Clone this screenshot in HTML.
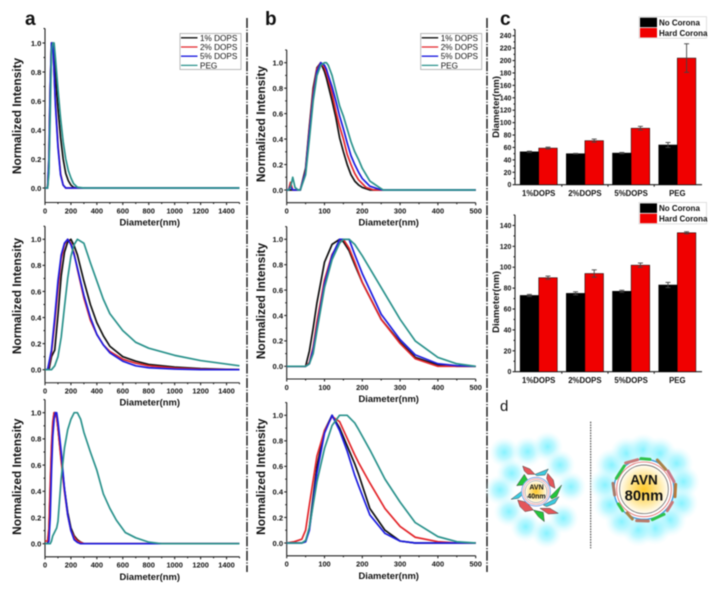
<!DOCTYPE html>
<html lang="en">
<head>
<meta charset="utf-8">
<title>Nanoparticle size distributions and corona diameters</title>
<style>
html,body{margin:0;padding:0;background:#fff;width:714px;height:589px;overflow:hidden}
svg{display:block;filter:blur(.4px)}
text{font-family:"Liberation Sans",sans-serif;fill:#111}
</style>
</head>
<body>
<svg id="figure" xmlns="http://www.w3.org/2000/svg" width="714" height="589" viewBox="0 0 714 589">
  <defs>
    <radialGradient id="glow"><stop offset="0" stop-color="#86f2ff"/><stop offset=".45" stop-color="#a8f5ff" stop-opacity=".75"/><stop offset="1" stop-color="#dcfbff" stop-opacity="0"/></radialGradient>
    <radialGradient id="core"><stop offset="0" stop-color="#ffc928"/><stop offset=".6" stop-color="#ffe79a"/><stop offset="1" stop-color="#fffdf5"/></radialGradient>
  </defs>
  <rect x="0" y="0" width="714" height="589" fill="#fff"/>
  <line x1="247" y1="18" x2="247" y2="572" stroke="#222" stroke-width="1.5" stroke-dasharray="10 1.6 1.2 1.6"/>
  <line x1="487" y1="18" x2="487" y2="572" stroke="#222" stroke-width="1.5" stroke-dasharray="10 1.6 1.2 1.6"/>
  <text x="25" y="25" font-size="19" font-weight="bold">a</text>
  <text x="265" y="25" font-size="19" font-weight="bold">b</text>
  <text x="500" y="25" font-size="19" font-weight="bold">c</text>
  <text x="500" y="411" font-size="15">d</text>
  <g id="charts"></g>

  <g transform="translate(485,395) scale(.3333)">
    <line x1="317" y1="80" x2="317" y2="460" stroke="#555" stroke-width="3.5" stroke-dasharray="5 3"/>
    <g>
      <g fill="url(#glow)">
        <circle cx="58" cy="172" r="46"/><circle cx="128" cy="170" r="46"/><circle cx="188" cy="155" r="46"/><circle cx="225" cy="210" r="46"/><circle cx="80" cy="235" r="46"/><circle cx="258" cy="275" r="46"/><circle cx="45" cy="285" r="46"/><circle cx="72" cy="350" r="46"/><circle cx="122" cy="395" r="46"/><circle cx="185" cy="415" r="46"/><circle cx="235" cy="370" r="46"/>
      </g>
      <g stroke="#444" stroke-width="1.5">
        <polygon fill="#e4565a" points="113,213 135,222 150,238 128,238 118,228"/>
        <polygon fill="#3ccbe0" points="150,238 190,222 180,240 155,242"/>
        <polygon fill="#e4565a" points="188,235 205,255 210,280 195,272 185,250"/>
        <polygon fill="#22c53a" points="95,272 118,238 128,255 115,270"/>
        <polygon fill="#22c53a" points="195,305 230,270 215,305 200,312"/>
        <polygon fill="#3ccbe0" points="78,313 115,285 118,295 100,310"/>
        <polygon fill="#3ccbe0" points="175,330 222,305 210,325 185,335"/>
        <polygon fill="#e4565a" points="98,315 125,322 145,345 120,350 105,335"/>
        <polygon fill="#22c53a" points="145,345 175,352 178,380 160,365"/>
        <polygon fill="#e4565a" points="165,340 195,340 220,355 190,357"/>
      </g>
      <circle cx="153" cy="290" r="43" fill="#fff" stroke="#7fa6e8" stroke-width="3"/>
      <circle cx="153" cy="290" r="38" fill="#fff" stroke="#e88a8a" stroke-width="2"/>
      <circle cx="153" cy="290" r="33" fill="url(#core)" stroke="#777" stroke-width="1.5"/>
    </g>
    <g>
      <g fill="url(#glow)">
        <circle cx="380" cy="210" r="50"/><circle cx="425" cy="175" r="50"/><circle cx="475" cy="165" r="50"/><circle cx="525" cy="175" r="50"/><circle cx="575" cy="205" r="50"/><circle cx="595" cy="260" r="50"/><circle cx="590" cy="325" r="50"/><circle cx="555" cy="375" r="50"/><circle cx="510" cy="400" r="50"/><circle cx="460" cy="405" r="50"/><circle cx="410" cy="380" r="50"/><circle cx="375" cy="330" r="50"/><circle cx="360" cy="270" r="50"/>
      </g>
      <circle cx="477" cy="283" r="90" fill="#fff" stroke="#3a9ae0" stroke-width="4"/>
      <circle cx="477" cy="283" r="82" fill="#fff" stroke="#e06a6a" stroke-width="2.5"/>
      <circle cx="477" cy="283" r="73" fill="url(#core)" stroke="#555" stroke-width="2"/>
      <g fill="none" stroke-width="9" stroke-linecap="round">
        <path stroke="#2ec24a" d="M468 191 L495 193"/>
        <path stroke="#c87a7a" d="M422 204 L458 194"/>
        <path stroke="#a8824a" d="M517 195 L542 223"/>
        <path stroke="#c87a8a" d="M549 228 L567 260"/>
        <path stroke="#b87a3a" d="M572 268 L570 305"/>
        <path stroke="#c87a7a" d="M562 322 L547 347"/>
        <path stroke="#2ec24a" d="M537 358 L502 374"/>
        <path stroke="#b87a6a" d="M490 378 L455 377"/>
        <path stroke="#a8824a" d="M442 372 L426 354"/>
        <path stroke="#2ec24a" d="M413 347 L400 327"/>
        <path stroke="#a87a6a" d="M389 300 L384 265"/>
        <path stroke="#2ec24a" d="M394 250 L418 213"/>
      </g>
    </g>
  </g>
  <text text-anchor="middle" x="536.5" y="489.5" font-size="7" font-weight="bold">AVN</text>
  <text text-anchor="middle" x="536.5" y="498.5" font-size="7" font-weight="bold">40nm</text>
  <text text-anchor="middle" x="644" y="484.5" font-size="13.5" font-weight="bold">AVN</text>
  <text text-anchor="middle" x="644" y="500.5" font-size="14.8" font-weight="bold">80nm</text>
</svg>
<script>
// ---------- shared labels and ticks ----------
const seriesNames = ['1% DOPS', '2% DOPS', '5% DOPS', 'PEG'];
const seriesColors = ['#111111', '#e3262b', '#1c1ce0', '#2a928c'];
const intensityTicks = [0, 0.2, 0.4, 0.6, 0.8, 1.0];
const wideDiameterTicks = [0, 200, 400, 600, 800, 1000, 1200, 1400];
const narrowDiameterTicks = [0, 100, 200, 300, 400, 500];

// ---------- panel a, top ----------
const a1Diameter = [0, 20, 30, 40, 50, 60, 70, 80, 100, 120, 140, 160, 180, 200, 220, 250, 300, 1500];
const a1Dops1 = [0, 0, .15, .65, 1, .98, .9, .78, .55, .35, .2, .1, .05, .02, .005, 0, 0, 0];
const a1Dops2 = [0, 0, .2, .7, 1, 1, .8, .6, .3, .1, .02, 0, 0, 0, 0, 0, 0, 0];
const a1Dops5 = [0, 0, .2, .7, 1, 1, .8, .58, .28, .09, .02, 0, 0, 0, 0, 0, 0, 0];
const a1Peg = [0, 0, .1, .5, .95, 1, 1, .9, .68, .48, .32, .2, .12, .07, .03, .005, 0, 0];

// ---------- panel a, middle ----------
const a2Diameter = [0, 20, 30, 50, 75, 100, 125, 150, 175, 200, 225, 250, 300, 350, 400, 450, 500, 600, 700, 800, 1000, 1200, 1500];
const a2Dops1 = [0, 0, 0, .1, .15, .42, .72, .9, .98, 1, .95, .88, .68, .5, .36, .26, .18, .1, .065, .04, .02, .008, 0];
const a2Dops2 = [0, 0, .03, .13, .36, .62, .85, .96, 1, .97, .89, .77, .55, .38, .27, .19, .14, .08, .05, .03, .012, .004, 0];
const a2Dops5 = [0, 0, .05, .15, .4, .68, .88, .97, 1, .96, .88, .78, .57, .4, .27, .19, .13, .065, .03, .015, .005, 0, 0];
const a2Peg = [0, 0, 0, 0, .03, .1, .25, .48, .7, .87, .96, 1, .97, .82, .68, .54, .43, .3, .21, .165, .11, .07, .03];

// ---------- panel a, bottom ----------
const a3Diameter = [0, 20, 30, 40, 50, 60, 70, 80, 90, 100, 125, 150, 175, 200, 225, 250, 275, 300, 350, 400, 450, 500, 550, 620, 700, 800, 900, 1500];
const a3Dops1 = [0, 0, .1, .4, .7, .9, 1, 1, .97, .88, .65, .42, .24, .12, .06, .03, .012, 0, 0, 0, 0, 0, 0, 0, 0, 0, 0, 0];
const a3Dops2 = [.02, .02, .12, .45, .75, .93, 1, 1, .96, .88, .63, .4, .22, .1, .05, .02, .01, 0, 0, 0, 0, 0, 0, 0, 0, 0, 0, 0];
const a3Dops5 = [0, 0, .02, .2, .55, .82, .95, 1, 1, .93, .7, .42, .22, .1, .03, .01, 0, 0, 0, 0, 0, 0, 0, 0, 0, 0, 0, 0];
const a3Peg = [0, 0, 0, 0, .02, .06, .08, .1, .12, .17, .5, .73, .87, .95, 1, 1, .95, .85, .7, .56, .38, .27, .18, .085, .045, .012, 0, 0];

// ---------- panel b, top ----------
const b1Diameter = [0, 5, 10, 16, 22, 30, 36, 50, 60, 70, 80, 90, 100, 105, 110, 120, 130, 140, 150, 160, 170, 180, 190, 200, 210, 220, 230, 240, 255, 300, 500];
const b1Dops1 = [0, 0, 0, 0, 0, 0, 0, .17, .5, .8, .96, 1, .93, .88, .82, .7, .57, .41, .3, .2, .12, .07, .04, .02, .01, 0, 0, 0, 0, 0, 0];
const b1Dops2 = [0, 0, .06, 0, 0, 0, 0, .15, .48, .77, .95, 1, .96, .92, .87, .76, .62, .5, .4, .28, .2, .13, .08, .05, .02, .01, 0, 0, 0, 0, 0];
const b1Dops5 = [0, 0, .03, 0, 0, 0, 0, .14, .45, .73, .93, 1, .98, .95, .9, .81, .7, .58, .48, .37, .27, .2, .14, .09, .06, .03, .02, .01, 0, 0, 0];
const b1Peg = [0, 0, .02, .1, .02, 0, 0, .12, .4, .7, .9, .98, 1, 1, .98, .9, .78, .66, .58, .48, .38, .3, .24, .17, .12, .07, .05, .03, 0, 0, 0];

// ---------- panel b, middle ----------
const b2Diameter = [0, 50, 60, 70, 80, 100, 120, 140, 150, 165, 180, 200, 250, 300, 340, 400, 450, 500];
const b2Dops1 = [0, 0, .12, .3, .5, .82, .96, 1, .98, .91, .8, .66, .37, .19, .07, .01, 0, 0];
const b2Dops2 = [0, 0, .03, .15, .35, .68, .88, .98, 1, .93, .82, .66, .37, .18, .06, 0, 0, 0];
const b2Dops5 = [0, 0, .02, .13, .3, .65, .87, 1, 1, 1, .88, .73, .41, .21, .09, .02, .005, 0];
const b2Peg = [0, 0, .02, .1, .28, .62, .84, .97, 1, 1, .96, .87, .62, .37, .2, .07, .02, 0];

// ---------- panel b, bottom ----------
const b3Diameter = [0, 20, 30, 40, 50, 60, 80, 100, 120, 140, 160, 180, 190, 220, 260, 300, 340, 400, 450, 500];
const b3Dops1 = [0, 0, 0, 0, .01, .12, .6, .88, 1, .9, .76, .62, .54, .27, .1, .015, 0, 0, 0, 0];
const b3Dops2 = [0, .01, .02, .03, .1, .3, .68, .88, .99, .95, .82, .69, .63, .47, .27, .13, .045, .01, 0, 0];
const b3Dops5 = [0, 0, 0, 0, .01, .1, .55, .86, 1, .88, .72, .53, .45, .22, .075, .015, 0, 0, 0, 0];
const b3Peg = [0, 0, 0, 0, .02, .12, .48, .74, .92, 1, 1, .94, .89, .73, .5, .32, .16, .05, .01, 0];

// ---------- panel c ----------
const barCategories = ['1%DOPS', '2%DOPS', '5%DOPS', 'PEG'];
const barSeriesNames = ['No Corona', 'Hard Corona'];
const barSeriesColors = ['#000000', '#f00000'];
const c1Ticks = [0, 20, 40, 60, 80, 100, 120, 140, 160, 180, 200, 220, 240];
const c1NoCorona = [53, 50, 51, 64];
const c1NoCoronaError = [1, .5, 1, 4];
const c1HardCorona = [59, 71, 91, 204];
const c1HardCoronaError = [1.5, 2.5, 3, 23];
const c2Ticks = [0, 20, 40, 60, 80, 100, 120, 140];
const c2NoCorona = [73, 75, 77, 83];
const c2NoCoronaError = [1, 1.5, 1, 2.5];
const c2HardCorona = [90, 94, 102, 133];
const c2HardCoronaError = [1.5, 3.5, 2, 1];

// ---------- drawing ----------
const SVG_NS = 'http://www.w3.org/2000/svg';
const root = document.getElementById('charts');

function make(tag, parent, name, attrs, content) {
  const el = document.createElementNS(SVG_NS, tag);
  
  
  for (const key in attrs) el.setAttribute(key, attrs[key]);
  if (content !== undefined) el.textContent = content;
  parent.appendChild(el);
  return el;
}
function scale(d0, d1, r0, r1) {
  return v => r0 + (v - d0) * (r1 - r0) / (d1 - d0);
}
function segment(parent, name, x1, y1, x2, y2, color, width) {
  return make('line', parent, name, { x1, y1, x2, y2, stroke: color || '#222', 'stroke-width': width || 1.1 });
}
function label(parent, name, x, y, text, size, weight, anchor) {
  return make('text', parent, name, { x, y, 'font-size': size, 'font-weight': weight || 'normal', 'text-anchor': anchor || 'start' }, text);
}

function drawLineChart(cfg) {
  const g = make('g', root, 'line-chart-' + cfg.id, {});
  const xs = scale(0, cfg.xMax, cfg.left, cfg.right);
  const ys = scale(0, 1, cfg.y0, cfg.y1);
  const bottom = ys(-0.1), top = ys(1.1);
  const axes = make('g', g, 'axes-' + cfg.id, {});
  segment(axes, 'y-axis', cfg.left, top, cfg.left, bottom);
  segment(axes, 'x-axis', cfg.left, bottom, cfg.right, bottom);
  intensityTicks.forEach(t => {
    segment(axes, 'y-tick', cfg.left - 2.5, ys(t), cfg.left, ys(t));
    segment(axes, 'y-minor-tick', cfg.left - 1.5, ys(t + 0.1), cfg.left, ys(t + 0.1));
    label(axes, 'y-tick-label', cfg.left - 3.6, ys(t) + 2.8, t.toFixed(1), 7.6, 'bold', 'end');
  });
  cfg.xTicks.forEach((t, i) => {
    segment(axes, 'x-tick', xs(t), bottom, xs(t), bottom + 2.5);
    const next = i + 1 < cfg.xTicks.length ? cfg.xTicks[i + 1] : t + (t - cfg.xTicks[i - 1]);
    const mid = (t + next) / 2;
    if (mid <= cfg.xMax) segment(axes, 'x-minor-tick', xs(mid), bottom, xs(mid), bottom + 1.5);
    label(axes, 'x-tick-label', xs(t), bottom + 10.8, String(t), 7.4, 'bold', 'middle');
  });
  label(axes, 'x-axis-title', (cfg.left + cfg.right) / 2 + 7.5, bottom + 23, 'Diameter(nm)', 9.4, 'bold', 'middle');
  const yTitle = label(axes, 'y-axis-title', cfg.titleX, cfg.titleY, 'Normalized Intensity', 11.9, 'bold', 'middle');
  yTitle.setAttribute('transform', 'rotate(-90 ' + cfg.titleX + ' ' + cfg.titleY + ')');

  cfg.series.forEach((values, i) => {
    const pts = values.map((v, j) => xs(cfg.diameter[j]).toFixed(2) + ',' + ys(v).toFixed(2)).join(' ');
    make('polyline', g, 'series-' + seriesNames[i].replace('% ', '-').toLowerCase(), {
      points: pts, fill: 'none', stroke: seriesColors[i], 'stroke-width': 1.7, 'stroke-linejoin': 'round'
    });
  });

  if (cfg.legendX !== undefined) {
    const lg = make('g', g, 'legend-' + cfg.id, {});
    make('rect', lg, 'legend-box', { x: cfg.legendX, y: 33.5, width: 61, height: 36, fill: '#fff', stroke: '#aaa', 'stroke-width': .8 });
    seriesNames.forEach((n, i) => {
      const rowY = 37.8 + i * 9.2;
      segment(lg, 'legend-swatch', cfg.legendX + 1, rowY, cfg.legendX + 17.5, rowY, seriesColors[i], 1.3);
      label(lg, 'legend-label', cfg.legendX + 20, rowY + 3, n, 8.2);
    });
  }
}

function drawBarChart(cfg) {
  const g = make('g', root, 'bar-chart-' + cfg.id, {});
  const ys = scale(0, cfg.yMax, cfg.y0, cfg.top);
  const axes = make('g', g, 'axes-' + cfg.id, {});
  const left = 515, right = 702, pitch = 46.2, barW = 18.6, firstCenter = 538.7;
  segment(axes, 'y-axis', left, cfg.top, left, cfg.y0);
  segment(axes, 'x-axis', left, cfg.y0, right, cfg.y0);
  cfg.ticks.forEach(t => {
    segment(axes, 'y-tick', left - 2.5, ys(t), left, ys(t));
    if (t + 10 <= cfg.yMax) segment(axes, 'y-minor-tick', left - 1.5, ys(t + 10), left, ys(t + 10));
    label(axes, 'y-tick-label', left - 3.6, ys(t) + 2.5, String(t), 7, 'bold', 'end');
  });
  barCategories.forEach((c, i) => {
    const cx = firstCenter + i * pitch;
    if (i > 0) segment(axes, 'x-tick', cx - pitch / 2, cfg.y0, cx - pitch / 2, cfg.y0 + 2);
    label(axes, 'x-tick-label', cx, cfg.y0 + 11.5, c, 7.8, 'bold', 'middle');
    [cfg.no, cfg.hard].forEach((vals, s) => {
      const bx = cx + (s === 0 ? -barW : 0);
      const v = vals[i];
      const e = (s === 0 ? cfg.noErr : cfg.hardErr)[i];
      make('rect', g, 'bar-' + barSeriesNames[s].replace(' ', '-').toLowerCase(), {
        x: bx, y: ys(v), width: barW, height: cfg.y0 - ys(v), fill: barSeriesColors[s], stroke: '#000', 'stroke-width': .5
      });
      const mx = bx + barW / 2;
      const errColor = '#444';
      segment(g, 'error-bar', mx, ys(v + e), mx, ys(v - e), errColor, .9);
      segment(g, 'error-cap', mx - 2.5, ys(v + e), mx + 2.5, ys(v + e), errColor, .9);
      segment(g, 'error-cap', mx - 2.5, ys(v - e), mx + 2.5, ys(v - e), errColor, .9);
    });
  });
  const yTitle = label(axes, 'y-axis-title', 499, cfg.titleY, 'Diameter(nm)', 9.6, 'bold', 'middle');
  yTitle.setAttribute('transform', 'rotate(-90 499 ' + cfg.titleY + ')');

  const lg = make('g', g, 'legend-' + cfg.id, {});
  make('rect', lg, 'legend-box', { x: 639, y: cfg.legendY - 1, width: 67.5, height: 21.5, fill: '#fff', stroke: '#ccc', 'stroke-width': .6 });
  barSeriesNames.forEach((n, i) => {
    const rowY = cfg.legendY + i * 10.3;
    make('rect', lg, 'legend-swatch', { x: 640, y: rowY, width: 17, height: 9.5, fill: barSeriesColors[i] });
    label(lg, 'legend-label', 659, rowY + 7.8, n, 8, 'bold');
  });
}

drawLineChart({ id: 'a-top', diameter: a1Diameter, series: [a1Dops1, a1Dops2, a1Dops5, a1Peg], xMax: 1500, xTicks: wideDiameterTicks, left: 45, right: 239.5, y0: 188, y1: 43, titleX: 21, titleY: 116, legendX: 180 });
drawLineChart({ id: 'a-middle', diameter: a2Diameter, series: [a2Dops1, a2Dops2, a2Dops5, a2Peg], xMax: 1500, xTicks: wideDiameterTicks, left: 45, right: 239.5, y0: 369.7, y1: 239.3, titleX: 21, titleY: 296 });
drawLineChart({ id: 'a-bottom', diameter: a3Diameter, series: [a3Dops1, a3Dops2, a3Dops5, a3Peg], xMax: 1500, xTicks: wideDiameterTicks, left: 45, right: 239.5, y0: 543.7, y1: 412.7, titleX: 21, titleY: 476.7 });
drawLineChart({ id: 'b-top', diameter: b1Diameter, series: [b1Dops1, b1Dops2, b1Dops5, b1Peg], xMax: 500, xTicks: narrowDiameterTicks, left: 286.7, right: 475.7, y0: 190, y1: 62.7, titleX: 265, titleY: 124, legendX: 420.7 });
drawLineChart({ id: 'b-middle', diameter: b2Diameter, series: [b2Dops1, b2Dops2, b2Dops5, b2Peg], xMax: 500, xTicks: narrowDiameterTicks, left: 286.7, right: 475.7, y0: 366.3, y1: 239.3, titleX: 265, titleY: 301 });
drawLineChart({ id: 'b-bottom', diameter: b3Diameter, series: [b3Dops1, b3Dops2, b3Dops5, b3Peg], xMax: 500, xTicks: narrowDiameterTicks, left: 286.7, right: 475.7, y0: 543, y1: 415.3, titleX: 265, titleY: 476.7 });
drawBarChart({ id: 'c-top', ticks: c1Ticks, no: c1NoCorona, noErr: c1NoCoronaError, hard: c1HardCorona, hardErr: c1HardCoronaError, yMax: 250, y0: 184.7, top: 29.5, titleY: 107, legendY: 17.7 });
drawBarChart({ id: 'c-bottom', ticks: c2Ticks, no: c2NoCorona, noErr: c2NoCoronaError, hard: c2HardCorona, hardErr: c2HardCoronaError, yMax: 150, y0: 371.7, top: 215, titleY: 302, legendY: 203.4 });
</script>
</body>
</html>
